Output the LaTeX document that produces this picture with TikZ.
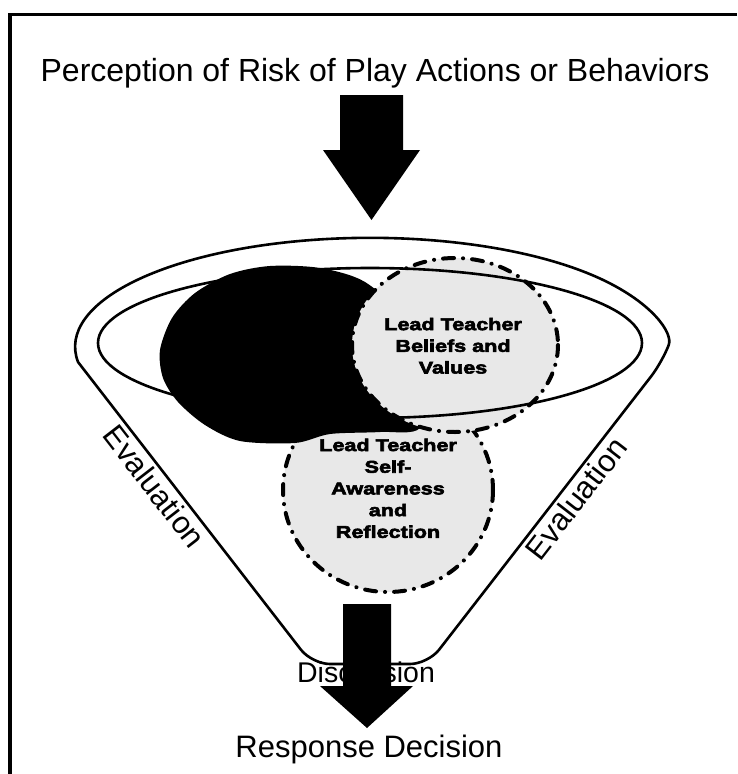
\documentclass[tikz,border=0pt]{standalone}
\usepackage{fontspec}
\setmainfont{Liberation Sans}
\newfontfamily\heavyfont{Liberation Sans}[FakeStretch=1.27,FakeBold=3.5]

\begin{document}
\begin{tikzpicture}[x=1pt, y=-1pt]

\tikzset{
frame/.style = {line width = 3.5pt},
rim/.style = {line width = 2.6pt},
lens/.style = {fill = black!9, draw, line width = 4pt, line cap = round, dash pattern = on 11pt off 9pt on 0.1pt off 9pt},
blob/.style = {fill = black},
label/.style = {font = \fontsize{31}{36}\selectfont},
inlabel/.style = {align = center, inner sep = 0pt, anchor = north, font = \heavyfont\bfseries\fontsize{17}{21.7}\selectfont},
blockarrow/.style = {fill = black},
	}

\useasboundingbox (0,0) rectangle (737,774);

% Frame
\draw [frame] (737,14.5) -- (10,14.5) -- (10,774);

% Title
\node [label, font = \fontsize{32}{38}\selectfont, anchor = base] (risk) at (375,81) {Perception of Risk of Play Actions or Behaviors};

% Arrow in
\fill [blockarrow] (340,95) -- (403,95) -- (403,150) -- (420,150) -- (371.5,220) -- (323,150) -- (340,150) -- cycle;

% Circles
\draw [lens] (388,490) ellipse [x radius = 105, y radius = 102];
\fill [blob] plot [smooth cycle] coordinates {(160,350) (172,318) (195,293) (230,274) (270,266) (320,268) (365,282) (405,320) (425,380) (420,428) (380,432) (330,434) (295,443) (240,441) (205,425) (178,402) (163,378)};
\draw [lens] (455,345) ellipse [x radius = 103, y radius = 87];

% Funnel
\draw [rim] (370,343) ellipse [x radius = 272, y radius = 75];
\draw [rim, rounded corners = 18pt] (78,362) arc [start angle = 172, end angle = 368, x radius = 295, y radius = 109] -- (428,664) -- (312,664) -- (78,362);

% Circle texts
\node [inlabel] (beliefs) at (453,317.6) {Lead Teacher\\Beliefs and\\Values};
\node [inlabel] (selfaware) at (388,438.5) {Lead Teacher\\Self-\\Awareness\\and\\Reflection};

% Funnel texts
\path (78,362) -- (312,664) node [label, sloped, below, pos = 0.38, inner sep = 4pt] (evalleft) {Evaluation};
\path (428,664) -- (662,362) node [label, sloped, below, pos = 0.58, inner sep = 4pt] (evalright) {Evaluation};
\node [label, font = \fontsize{28.5}{34}\selectfont, anchor = base] (discuss) at (366,682) {Discussion};

% Arrow out
\fill [blockarrow] (343,604) -- (391,604) -- (391,686) -- (413,686) -- (367,728) -- (320,686) -- (343,686) -- cycle;

% Response
\node [label, anchor = base] (response) at (369,757) {Response Decision};

\end{tikzpicture}
\end{document}
